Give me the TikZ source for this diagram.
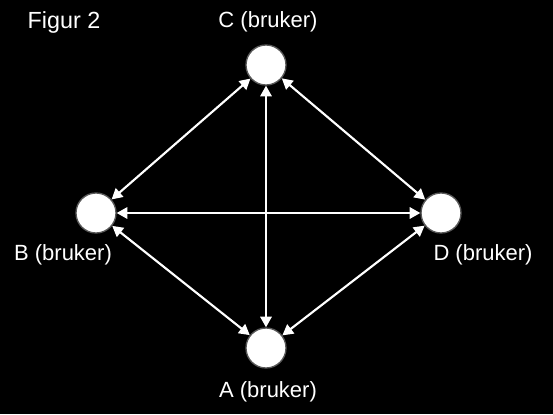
\documentclass[tikz,border=0pt]{standalone}
\usepackage{fontspec}
\setmainfont{Liberation Sans}
\usetikzlibrary{arrows.meta}

\begin{document}
\begin{tikzpicture}[x=0.75pt, y=-0.75pt, >={Triangle[length=8pt, width=8.5pt]},
	user/.style={circle, fill=white, draw=white!35!black, line width=1pt, minimum size=30pt, inner sep=0pt},
	link/.style={white, line width=1.6pt, <->},
	tag/.style={white, font=\fontsize{16.5}{19}\selectfont, inner sep=0pt}]
	% --- background ---
	\fill[black] (0,0) rectangle (553,414);
	
	% --- users ---
	\node[user] (C) at (266,65) {};
	\node[user] (B) at (96,213) {};
	\node[user] (D) at (441,213) {};
	\node[user] (A) at (266,348) {};
	
	% --- labels ---
	\node[tag, font=\fontsize{17.5}{20}\selectfont] (title) at (64,22) {Figur 2};
	\node[tag] (labC) at (268,22) {C (bruker)};
	\node[tag] (labB) at (63,255) {B (bruker)};
	\node[tag] (labD) at (483,255) {D (bruker)};
	\node[tag] (labA) at (268,392) {A (bruker)};
	
	% --- connections ---
	\draw[link] (C) -- (B);
	\draw[link] (C) -- (D);
	\draw[link] (C) -- (A);
	\draw[link] (B) -- (D);
	\draw[link] (B) -- (A);
	\draw[link] (D) -- (A);
\end{tikzpicture}
\end{document}
